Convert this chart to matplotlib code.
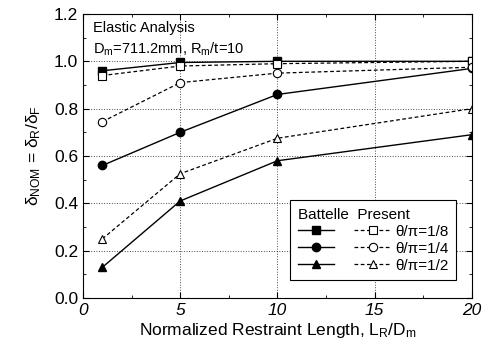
import numpy as np
import matplotlib.pyplot as plt
from matplotlib.ticker import MultipleLocator, FormatStrFormatter

plt.rcParams['font.family'] = ['Liberation Sans', 'DejaVu Sans']
plt.rcParams['mathtext.fontset'] = 'custom'
plt.rcParams['mathtext.rm'] = 'Liberation Sans'
plt.rcParams['mathtext.it'] = 'Liberation Sans'

LENGTH = [1, 5, 10, 20]
LABELS = ["θ/π=1/8", "θ/π=1/4", "θ/π=1/2"]
BATTELLE = [
    [0.96, 0.995, 1.0, 1.0],
    [0.56, 0.70, 0.86, 0.97],
    [0.13, 0.41, 0.58, 0.69],
]
PRESENT = [
    [0.94, 0.98, 0.99, 1.0],
    [0.745, 0.91, 0.95, 0.975],
    [0.25, 0.525, 0.675, 0.80],
]
MARKERS = ["s", "o", "^"]

fig, ax = plt.subplots(figsize=(4.85, 3.49), dpi=100)
fig.subplots_adjust(left=0.171, right=0.973, top=0.96, bottom=0.146)

bat_handles, pre_handles = [], []
for i, m in enumerate(MARKERS):
    hb, = ax.plot(LENGTH, BATTELLE[i], color="black", lw=1.0, ls="-",
                  marker=m, ms=6, mfc="black", mec="black")
    hp, = ax.plot(LENGTH, PRESENT[i], color="black", lw=0.9, ls=(0, (3, 2)),
                  marker=m, ms=6, mfc="white", mec="black", mew=0.8)
    bat_handles.append(hb)
    pre_handles.append(hp)

ax.set_xlim(0, 20)
ax.set_ylim(0, 1.2)
ax.xaxis.set_major_locator(MultipleLocator(5))
ax.xaxis.set_minor_locator(MultipleLocator(2.5))
ax.yaxis.set_major_locator(MultipleLocator(0.2))
ax.yaxis.set_minor_locator(MultipleLocator(0.1))
ax.yaxis.set_major_formatter(FormatStrFormatter("%.1f"))
for lbl in ax.get_xticklabels():
    lbl.set_fontstyle("italic")
ax.tick_params(which="both", direction="in", top=True, right=True, labelsize=12.5)
ax.tick_params(which="major", length=4)
ax.tick_params(which="minor", length=2)
ax.grid(which="major", color="black", ls=":", lw=0.7, alpha=0.7)

ax.set_xlabel(r"Normalized Restraint Length, L$_\mathrm{R}$/D$_\mathrm{m}$",
              fontsize=12.5, labelpad=2)
ax.set_ylabel(r"$\delta_\mathrm{NOM}$ = $\delta_\mathrm{R}/\delta_\mathrm{F}$",
              fontsize=12.5, labelpad=8)

ax.text(0.025, 0.975, "Elastic Analysis", transform=ax.transAxes,
        fontsize=10.5, va="top")
ax.text(0.025, 0.905, r"D$_\mathrm{m}$=711.2mm, R$_\mathrm{m}$/t=10",
        transform=ax.transAxes, fontsize=10.5, va="top")

leg = ax.legend(bat_handles + pre_handles, [""] * 3 + LABELS, ncol=2,
                loc="lower right", bbox_to_anchor=(0.98, 0.035),
                title="Battelle  Present", alignment="left",
                fontsize=11, title_fontsize=11, frameon=True,
                fancybox=False, edgecolor="black", framealpha=1,
                handlelength=2.4, columnspacing=1.0, handletextpad=0.3,
                labelspacing=0.2, borderpad=0.5)
leg.get_frame().set_linewidth(0.8)

fig.savefig("out.png", dpi=100)
